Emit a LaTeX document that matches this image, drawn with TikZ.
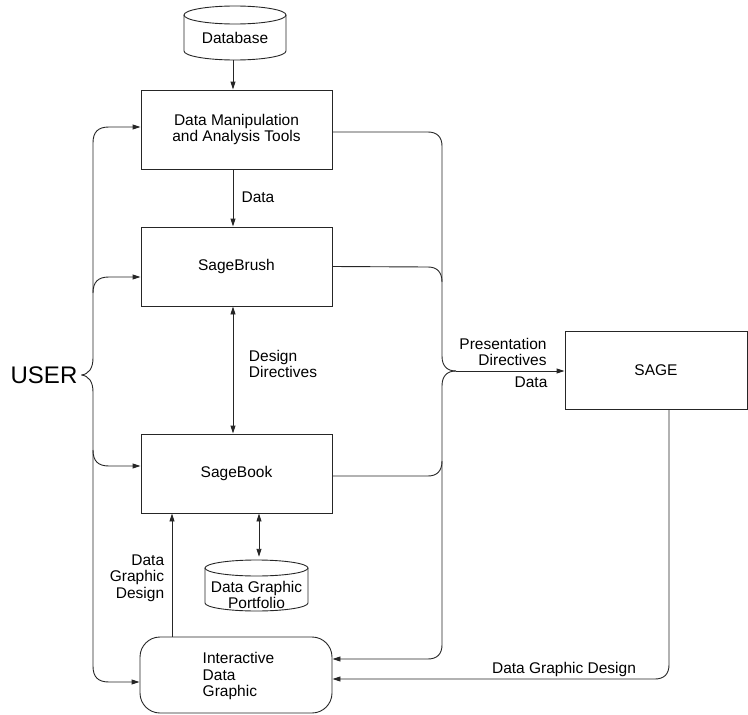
\documentclass[tikz,border=0pt]{standalone}
\usepackage{fontspec}
\setmainfont{Liberation Sans}
\usetikzlibrary{arrows.meta}
\begin{document}
\begin{tikzpicture}[x=1pt,y=-1pt,
  every node/.style={font=\fontsize{15.5}{16.5}\selectfont, inner sep=0pt},
  ln/.style={line width=0.9pt, draw=black!85},
  arr/.style={ln, -{Triangle[length=8pt,width=5pt]}},
  darr/.style={ln, {Triangle[length=8pt,width=5pt]}-{Triangle[length=8pt,width=5pt]}},
  boxnode/.style={draw=black!85, line width=0.9pt, minimum width=191pt, minimum height=79pt, align=center},
  lbl/.style={align=left}]
\useasboundingbox (0,0) rectangle (748,715);

% cylinders
\node (db) at (235,33) [minimum width=102pt, minimum height=54pt] {};
\node at (235,38) {Database};
\draw[ln] (184,15) -- (184,51) arc[start angle=180, end angle=360, x radius=51, y radius=-9] -- (286,15);
\draw[ln] (235,15) ellipse[x radius=51, y radius=9];

\node (port) at (256.5,585.5) [minimum width=103pt, minimum height=51pt] {};
\node at (256.5,595) [align=center] {Data Graphic\\Portfolio};
\draw[ln] (205,568) -- (205,603) arc[start angle=180, end angle=360, x radius=51.5, y radius=-8] -- (308,568);
\draw[ln] (256.5,568) ellipse[x radius=51.5, y radius=8];

% boxes
\node[boxnode] (dmat) at (236.5,129.5) {Data Manipulation\\and Analysis Tools};
\node[boxnode] (brush) at (236.5,266.5) {SageBrush};
\node[boxnode] (book) at (236.5,473.5) {SageBook};
\node[draw=black!85, line width=0.9pt, minimum width=182pt, minimum height=78pt] (sage) at (656,370) {SAGE};
\node[draw=black!85, line width=0.9pt, rounded corners=20pt, minimum width=192pt, minimum height=76pt] (idg) at (236,675) {};
\node[align=left] at (238.5,676) {Interactive\\Data\\Graphic};

\node (user) at (44,375) {\fontsize{24}{26}\selectfont USER};

% vertical arrows
\draw[arr] (db.south -| 233,0) -- (dmat.north -| 233,0);
\draw[arr] (dmat.south -| 233,0) -- (brush.north -| 233,0);
\node at (258,197) {Data};
\draw[darr] (brush.south -| 233,0) -- (book.north -| 233,0);
\node[lbl] at (283,364) {Design\\Directives};
\draw[darr] (book.south -| 259,0) -- ([yshift=3pt]port.north -| 259,0);
\coordinate (dgx) at (172,0);
\draw[arr] (idg.north -| dgx) -- (book.south -| dgx);
\node[align=right] at (137,578) {Data\\Graphic\\Design};

% USER brace
\draw[arr] (user.east) ++(4,0) .. controls (89,374) and (93,368) .. (93,358) -- (93,143) .. controls (93,132) and (98,127) .. (109,127) -- (dmat.west |- 0,127);
\draw[arr] (93,293) .. controls (93,282) and (98,277) .. (109,277) -- (brush.west |- 0,277);
\draw[arr] (93,450) .. controls (93,461) and (98,466) .. (109,466) -- (book.west |- 0,466);
\draw[arr] (user.east) ++(4,0) .. controls (89,376) and (93,382) .. (93,392) -- (93,666) .. controls (93,677) and (98,682) .. (109,682) -- (idg.west |- 0,682);

% right bus
\draw[ln] (dmat.east |- 0,132) -- (428,132) .. controls (437,132) and (442,137) .. (442,146) -- (442,356) .. controls (442,366) and (447,371) .. (456,371);
\draw[ln] (brush.east) -- (428,267) .. controls (437,267) and (442,272) .. (442,282);
\draw[ln] (book.east |- 0,476) -- (428,476) .. controls (437,476) and (442,471) .. (442,461);
\draw[arr] (456,371) .. controls (447,371) and (442,376) .. (442,386) -- (442,645) .. controls (442,654) and (437,659) .. (428,659) -- (idg.east |- 0,659);
\draw[arr] (456,371) -- (sage.west |- 0,371);
\node[align=right] at (503,352) {Presentation\\Directives};
\node at (531,382) {Data};

% SAGE down
\draw[arr] (sage.south -| 669,0) -- (669,665) .. controls (669,674) and (664,679) .. (655,679) -- (idg.east |- 0,679);
\node at (564,669) {Data Graphic Design};
\end{tikzpicture}
\end{document}
